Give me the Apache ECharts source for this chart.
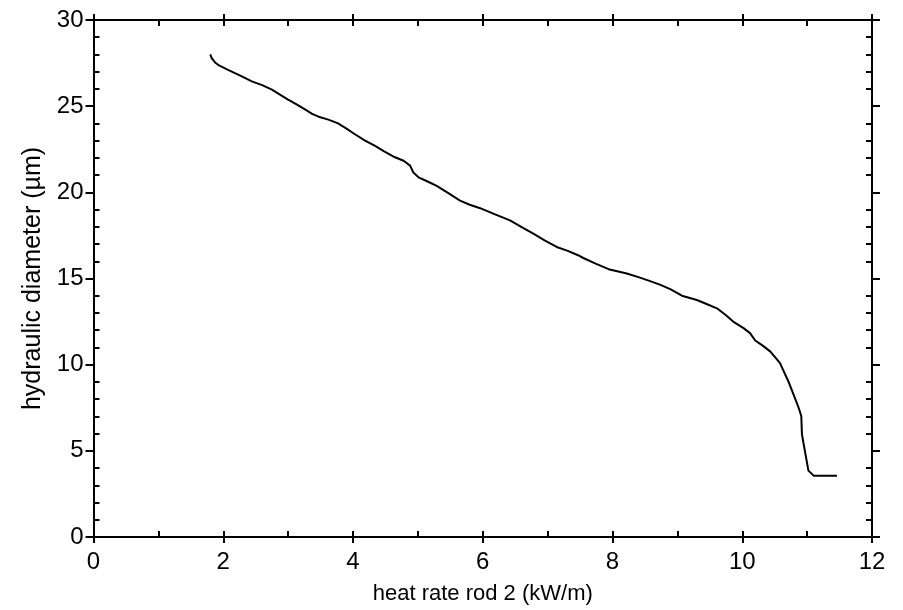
<!DOCTYPE html>
<html>
<head>
<meta charset="utf-8">
<script src="https://cdn.jsdelivr.net/npm/echarts@6/dist/echarts.min.js"></script>
<style>
  html, body { margin: 0; padding: 0; background: #fff; }
  #chart { width: 903px; height: 610px; }
</style>
</head>
<body>
<div id="chart"></div>
<script>
// heat rate rod 2 (kW/m) vs hydraulic diameter (um)
var heatRate = [1.80, 1.82, 1.87, 1.92, 2.05, 2.18, 2.31, 2.44, 2.60, 2.75, 2.88, 3.00, 3.13, 3.26, 3.37, 3.47,
  3.62, 3.77, 3.90, 4.03, 4.18, 4.34, 4.48, 4.62, 4.78, 4.88, 4.93, 5.01, 5.15, 5.29, 5.47, 5.65, 5.80, 5.96,
  6.19, 6.42, 6.60, 6.78, 6.96, 7.14, 7.31, 7.47, 7.55, 7.74, 7.94, 8.22, 8.40, 8.58, 8.74, 8.89, 9.07, 9.30,
  9.45, 9.61, 9.74, 9.86, 10.02, 10.12, 10.20, 10.31, 10.43, 10.58, 10.71, 10.86, 10.91, 10.92, 10.97, 11.02,
  11.10, 11.46];
var hydDiam = [28.0, 27.8, 27.55, 27.40, 27.15, 26.92, 26.68, 26.44, 26.22, 25.96, 25.66, 25.38, 25.10, 24.81, 24.55, 24.39,
  24.22, 24.0, 23.70, 23.37, 23.02, 22.69, 22.38, 22.08, 21.83, 21.55, 21.15, 20.87, 20.63, 20.38, 19.95, 19.52, 19.28, 19.08,
  18.72, 18.37, 17.98, 17.60, 17.20, 16.83, 16.60, 16.35, 16.19, 15.86, 15.54, 15.29, 15.08, 14.85, 14.63, 14.38, 14.0, 13.75,
  13.52, 13.27, 12.90, 12.50, 12.12, 11.83, 11.40, 11.12, 10.77, 10.10, 9.04, 7.60, 7.02, 5.96, 4.90, 3.85,
  3.56, 3.56];
var xLabels = ['0', '2', '4', '6', '8', '10', '12'];
var yLabels = ['0', '5', '10', '15', '20', '25', '30'];

var FONT = 'Liberation Sans, Arial, Helvetica, sans-serif';
var chart = echarts.init(document.getElementById('chart'));

var lineStyle = { color: '#000', width: 2 };

// two axes per side: one with outward major ticks + labels, one with inward ticks
function xAx(pos, inside, step, withLabels) {
  return {
    type: 'value', position: pos, min: 0, max: 12, interval: step,
    axisLine: { show: true, onZero: false, lineStyle: lineStyle },
    axisTick: { show: true, inside: inside, length: 6, lineStyle: lineStyle },
    axisLabel: {
      show: withLabels, margin: 13, color: '#000', fontSize: 24, fontFamily: FONT,
      formatter: function(v) { return xLabels[v / 2]; }
    },
    splitLine: { show: false },
    name: withLabels ? 'heat rate rod 2 (kW/m)' : '',
    nameLocation: 'middle', nameGap: 46,
    nameTextStyle: { color: '#000', fontSize: 22, fontFamily: FONT }
  };
}

function yAx(pos, withLabels, minorOnly) {
  return {
    type: 'value', position: pos, min: 0, max: 30, interval: 5,
    axisLine: { show: true, onZero: false, lineStyle: lineStyle },
    axisTick: { show: !minorOnly, inside: minorOnly, length: 8, lineStyle: lineStyle },
    minorTick: { show: minorOnly, splitNumber: 5, length: 6, lineStyle: lineStyle },
    axisLabel: {
      show: withLabels, margin: 10, color: '#000', fontSize: 24, fontFamily: FONT,
      formatter: function(v) { return yLabels[v / 5]; }
    },
    splitLine: { show: false },
    name: withLabels ? 'hydraulic diameter (\u00b5m)' : '',
    nameLocation: 'middle', nameGap: 45,
    nameTextStyle: { color: '#000', fontSize: 25, fontFamily: FONT }
  };
}

chart.setOption({
  backgroundColor: '#fff',
  animation: false,
  grid: { left: 93.5, right: 31, top: 20, bottom: 70 },
  xAxis: [
    xAx('bottom', false, 2, true),
    xAx('bottom', true, 1, false),
    xAx('top', false, 2, false),
    xAx('top', true, 1, false)
  ],
  yAxis: [
    yAx('left', true, false),
    yAx('left', false, true),
    yAx('right', false, false),
    yAx('right', false, true)
  ],
  series: [{
    type: 'line',
    xAxisIndex: 0, yAxisIndex: 0,
    data: heatRate.map(function(x, i) { return [x, hydDiam[i]]; }),
    showSymbol: false,
    lineStyle: { color: '#000', width: 2 },
    silent: true
  }]
});
</script>
</body>
</html>
